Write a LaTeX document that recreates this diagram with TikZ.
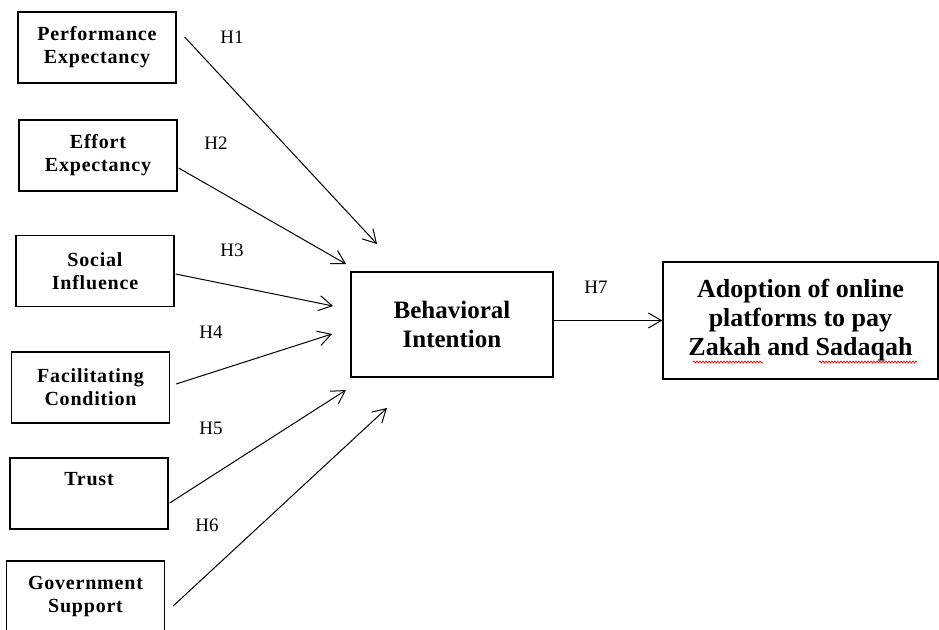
\documentclass[tikz,border=0pt]{standalone}
\usepackage{fontspec}
\setmainfont{Liberation Serif}
\usetikzlibrary{arrows.meta,calc,decorations.pathmorphing}
\begin{document}
\begin{tikzpicture}[x=1pt,y=-1pt,->,
    >={Straight Barb[length=13pt,width=15pt]},
    line width=1pt,
    factor/.style={draw,line width=1.3pt,minimum width=158pt,minimum height=71pt,
      inner sep=2pt,align=center,
      font=\bfseries\fontsize{20}{23}\selectfont\addfontfeatures{LetterSpace=4}},
    construct/.style={draw,line width=1.3pt,inner sep=2pt,align=center,
      font=\bfseries\fontsize{25}{29}\selectfont},
    hyp/.style={font=\fontsize{19}{22}\selectfont},
    spellmark/.style={-,red,line width=0.7pt,decorate,
      decoration={snake,amplitude=1pt,segment length=3pt}}]
  \clip (0,0) rectangle (939,629);
  % antecedents
  \node[factor] (pe) at (97,47.5) {Performance\\Expectancy};
  \node[factor] (ee) at (98,155.5) {Effort\\Expectancy};
  \node[factor] (si) at (95,271) {Social\\Influence};
  \node[factor] (fc) at (90.5,387.5) {Facilitating\\Condition};
  \node[factor] (tr) at (89,493.5) {Trust\\\strut};
  \node[factor] (gs) at (85.5,596.5) {Government\\Support};
  % intention and outcome
  \node[construct,minimum width=202pt,minimum height=105pt] (bi) at (452,324.5)
    {Behavioral\\Intention};
  \node[construct,font=\bfseries\fontsize{26}{29}\selectfont,
    minimum width=275pt,minimum height=117pt] (ad) at (800.5,320.5)
    {Adoption of online\\platforms to pay\\Zakah and Sadaqah};
  \coordinate (t1) at (377,244);
  \coordinate (t2) at (346,264);
  \coordinate (t3) at (333,306);
  \coordinate (t4) at (332,334);
  \coordinate (t5) at (346,390);
  \coordinate (t6) at (387,408);
  \draw ($(pe.east)+(8,-10.5)$) -- (t1);
  \draw ($(ee.east)+(1,12.5)$) -- (t2);
  \draw ($(si.east)+(1,3)$) -- (t3);
  \draw ($(fc.east)+(6,-3.5)$) -- (t4);
  \draw ($(tr.east)+(1,9.5)$) -- (t5);
  \draw ($(gs.east)+(8,9.5)$) -- (t6);
  \draw (bi.east |- ad.west) -- (ad.west);
  % spelling marks under the Arabic words
  \draw[spellmark] (693,362) -- (763,362);
  \draw[spellmark] (819,362) -- (917,362);
  % hypotheses
  \node[hyp] (h1) at (232,37) {H1};
  \node[hyp] (h2) at (216,143) {H2};
  \node[hyp] (h3) at (232,250) {H3};
  \node[hyp] (h4) at (211,332) {H4};
  \node[hyp] (h5) at (211,428) {H5};
  \node[hyp] (h6) at (207,525) {H6};
  \node[hyp] (h7) at (596,287) {H7};
\end{tikzpicture}
\end{document}
